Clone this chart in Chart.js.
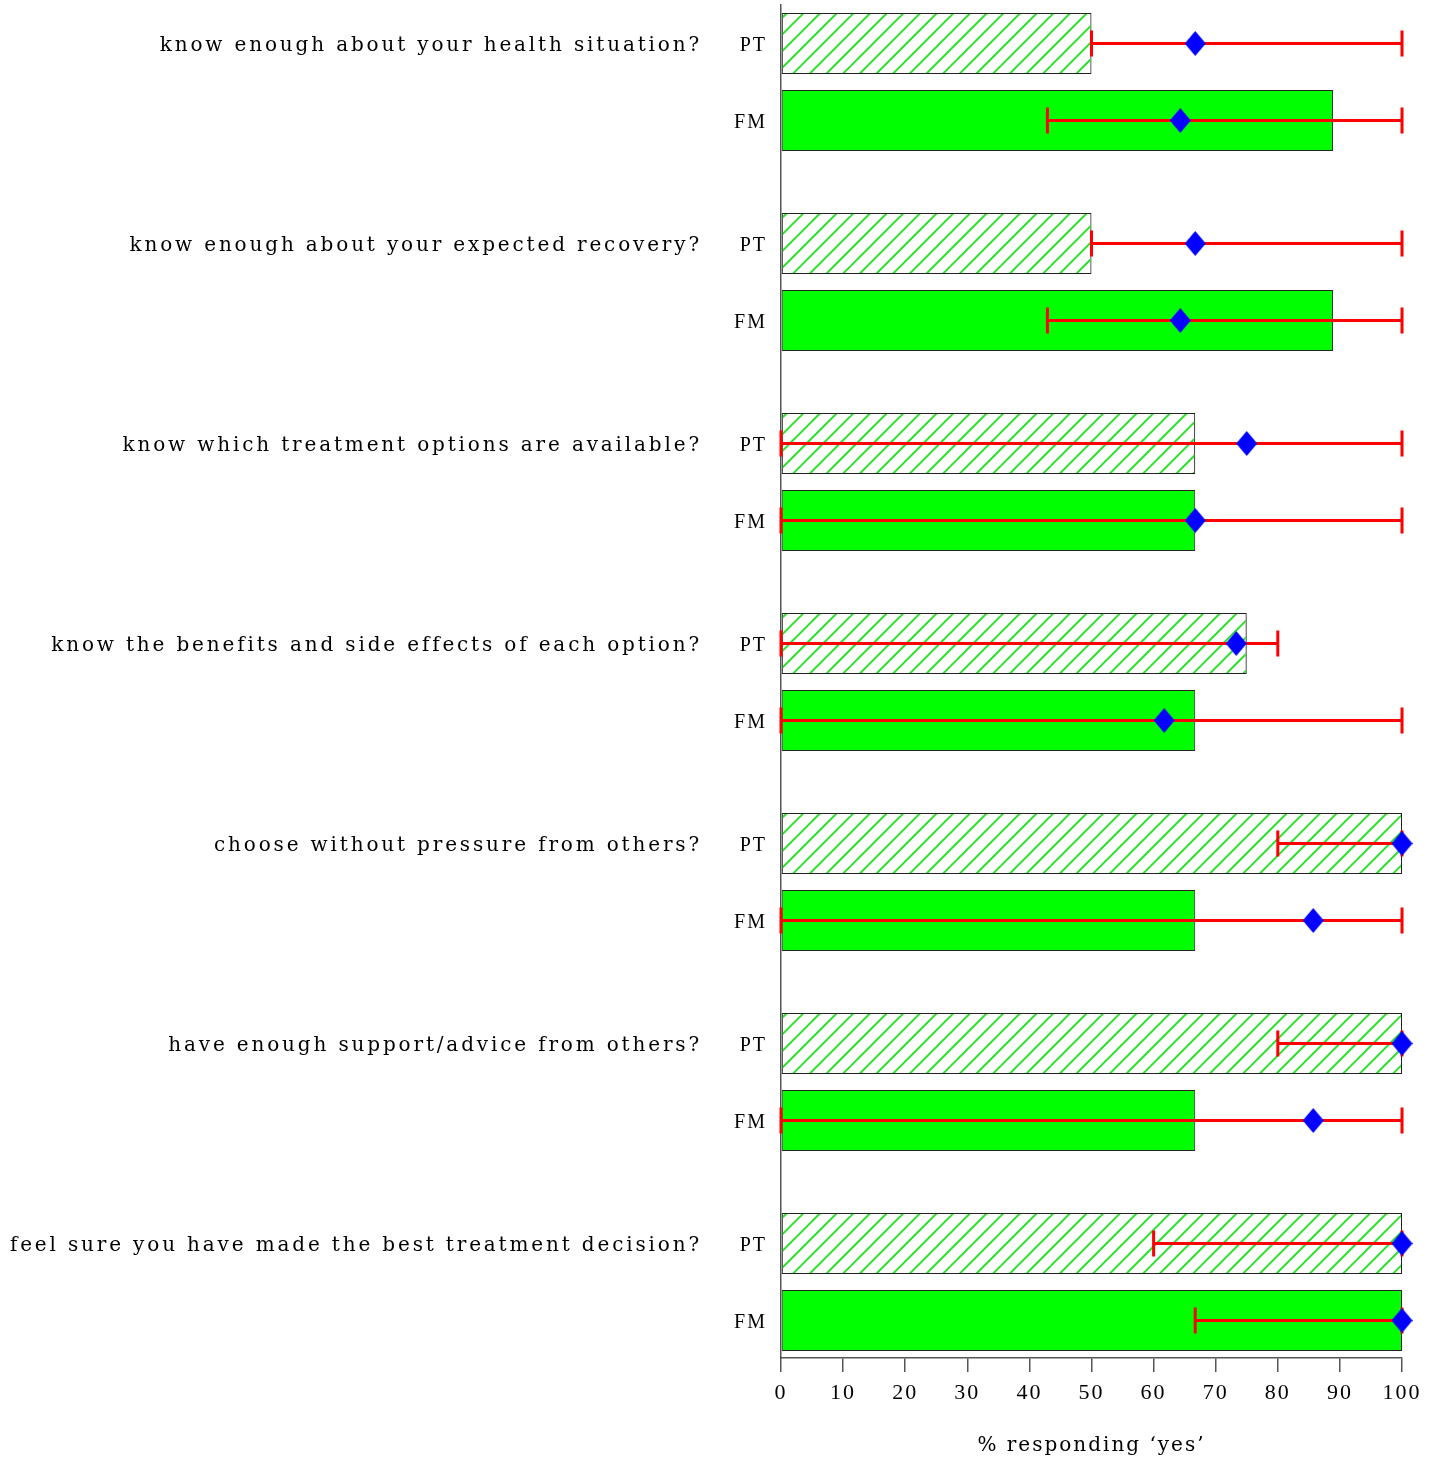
<!DOCTYPE html>
<html>
<head>
<meta charset="utf-8">
<script src="https://cdn.jsdelivr.net/npm/chart.js@4.4.0/dist/chart.umd.min.js"></script>
<style>
  html, body { margin: 0; padding: 0; background: #fff; }
  #wrap { width: 1441px; height: 1460px; }
</style>
</head>
<body>
<div id="wrap"><canvas id="chart"></canvas></div>
<script>
// Datos
const questions = [
    'know enough about your health situation?',
    'know enough about your expected recovery?',
    'know which treatment options are available?',
    'know the benefits and side effects of each option?',
    'choose without pressure from others?',
    'have enough support/advice from others?',
    'feel sure you have made the best treatment decision?'
];
const groupLabels = ['PT', 'FM'];

const ptYes  = [50, 50, 66.7, 75, 100, 100, 100];
const fmYes  = [88.9, 88.9, 66.7, 66.7, 66.7, 66.7, 100];
const ptMean = [66.7, 66.7, 75, 73.3, 100, 100, 100];
const fmMean = [64.3, 64.3, 66.7, 61.7, 85.7, 85.7, 100];
const ptLow  = [50, 50, 0, 0, 80, 80, 60];
const ptHigh = [100, 100, 100, 80, 100, 100, 100];
const fmLow  = [42.9, 42.9, 0, 0, 0, 0, 66.7];
const fmHigh = [100, 100, 100, 100, 100, 100, 100];

const xTicks = [0, 10, 20, 30, 40, 50, 60, 70, 80, 90, 100];

// posición en el eje Y: pregunta i, fila k (0 = PT, 1 = FM)
const rowPos = (i, k) => i + k * 0.385;

function hatchPattern() {
    const c = document.createElement('canvas');
    c.width = 50; c.height = 50;
    const g = c.getContext('2d');
    g.strokeStyle = '#2ee02e';
    g.lineWidth = 2;
    for (let k = -4; k <= 4; k++) {
        const s = 50 + k * 50 / 3;   // x + y = s
        g.beginPath();
        g.moveTo(s + 10, -10);
        g.lineTo(s - 60, 60);
        g.stroke();
    }
    return g.createPattern(c, 'repeat');
}

function diamond() {
    const c = document.createElement('canvas');
    c.width = 21; c.height = 25;
    const g = c.getContext('2d');
    g.fillStyle = '#0000ff';
    g.beginPath();
    g.moveTo(10.5, 0); g.lineTo(21, 12.5); g.lineTo(10.5, 25); g.lineTo(0, 12.5);
    g.closePath();
    g.fill();
    return c;
}

const errorBars = {
    id: 'errorBars',
    afterDatasetDraw(chart, args) {
        if (args.index > 1) return;
        const lo = args.index === 0 ? ptLow : fmLow;
        const hi = args.index === 0 ? ptHigh : fmHigh;
        const { ctx, scales: { x, y } } = chart;
        ctx.save();
        ctx.strokeStyle = '#ff0000';
        ctx.lineWidth = 3;
        lo.forEach((v, i) => {
            const py = y.getPixelForValue(rowPos(i, args.index));
            const x0 = x.getPixelForValue(v), x1 = x.getPixelForValue(hi[i]);
            ctx.beginPath();
            ctx.moveTo(x0, py); ctx.lineTo(x1, py);
            ctx.moveTo(x0, py - 13); ctx.lineTo(x0, py + 13);
            ctx.moveTo(x1, py - 13); ctx.lineTo(x1, py + 13);
            ctx.stroke();
        });
        ctx.restore();
    }
};

const questionLabels = {
    id: 'questionLabels',
    afterDraw(chart) {
        const { ctx, scales: { y } } = chart;
        ctx.save();
        ctx.font = "20px 'DejaVu Serif', serif";
        ctx.letterSpacing = '2.85px';
        ctx.fillStyle = '#000';
        ctx.textAlign = 'right';
        ctx.textBaseline = 'middle';
        questions.forEach((q, i) => {
            ctx.fillText(q, 702, y.getPixelForValue(rowPos(i, 0)) + 2);
        });
        ctx.restore();
    }
};

const spacing = {
    id: 'spacing',
    beforeUpdate(chart) { chart.ctx.letterSpacing = '2px'; },
    beforeDraw(chart) { chart.ctx.letterSpacing = '2px'; }
};

Chart.defaults.font.family = "'Liberation Serif', serif";
Chart.defaults.color = '#000';

const yTickValues = [];
questions.forEach((q, i) => { yTickValues.push(rowPos(i, 0), rowPos(i, 1)); });

new Chart(document.getElementById('chart'), {
    type: 'bar',
    data: {
        datasets: [
            {
                label: 'PT',
                indexAxis: 'y',
                data: ptYes.map((v, i) => ({ x: v, y: rowPos(i, 0) })),
                backgroundColor: hatchPattern(),
                borderColor: '#222',
                borderWidth: 1,
                borderSkipped: false,
                grouped: false,
                categoryPercentage: 1,
                barPercentage: 0.792,
                order: 2
            },
            {
                label: 'FM',
                indexAxis: 'y',
                data: fmYes.map((v, i) => ({ x: v, y: rowPos(i, 1) })),
                backgroundColor: '#00ff00',
                borderColor: '#222',
                borderWidth: 1,
                borderSkipped: false,
                grouped: false,
                categoryPercentage: 1,
                barPercentage: 0.792,
                order: 2
            },
            {
                type: 'scatter',
                label: 'mean',
                data: ptMean.map((v, i) => ({ x: v, y: rowPos(i, 0) }))
                    .concat(fmMean.map((v, i) => ({ x: v, y: rowPos(i, 1) }))),
                pointStyle: diamond(),
                radius: 10,
                clip: false,
                order: 0
            }
        ]
    },
    options: {
        responsive: true,
        maintainAspectRatio: false,
        animation: false,
        events: [],
        layout: { autoPadding: false, padding: { top: 5, right: 39, left: 0, bottom: 0 } },
        plugins: { legend: { display: false }, tooltip: { enabled: false } },
        scales: {
            x: {
                type: 'linear',
                position: 'bottom',
                offset: false,
                min: 0,
                max: 100,
                afterBuildTicks: s => { s.ticks = xTicks.map(v => ({ value: v })); },
                afterFit: s => { s.height = 102; s.paddingLeft = 0; s.paddingRight = 0; },
                grid: { offset: false, drawOnChartArea: false, tickLength: 14, color: '#555', lineWidth: 1.5 },
                border: { display: true, color: '#555', width: 1.5 },
                ticks: { font: { size: 22 }, padding: 8, maxRotation: 0 },
                title: {
                    display: true,
                    text: '% responding ‘yes’',
                    font: { size: 20, family: "'DejaVu Serif', serif" },
                    padding: { top: 0, bottom: 2 }
                }
            },
            y: {
                type: 'linear',
                position: 'left',
                reverse: true,
                offset: false,
                min: -0.1925,
                max: 6.5725,
                afterBuildTicks: s => { s.ticks = yTickValues.map(v => ({ value: v })); },
                afterFit: s => { s.width = 781; s.paddingTop = 0; s.paddingBottom = 0; },
                grid: { display: false, drawTicks: false, offset: false },
                border: { display: true, color: '#555', width: 1.5 },
                ticks: {
                    font: { size: 20 },
                    padding: 14,
                    labelOffset: 2,
                    callback: (v, idx) => groupLabels[idx % 2]
                }
            }
        }
    },
    plugins: [spacing, errorBars, questionLabels]
});
</script>
</body>
</html>
